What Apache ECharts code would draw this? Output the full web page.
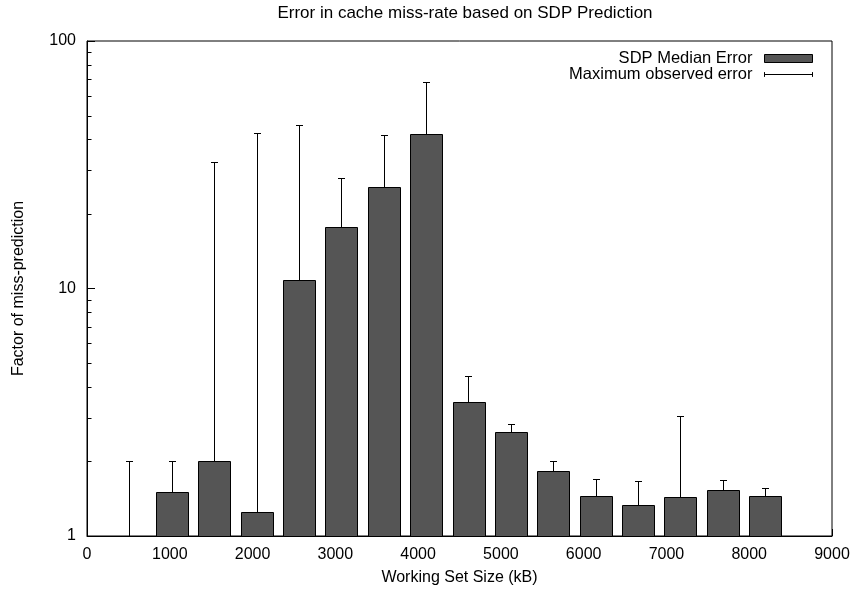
<!DOCTYPE html>
<html>
<head>
<meta charset="utf-8">
<script src="https://cdn.jsdelivr.net/npm/echarts@6/dist/echarts.min.js"></script>
<style>html,body{margin:0;padding:0;background:#fff}#c{width:860px;height:592px}</style>
</head>
<body>
<div id="c"></div>
<script>
// Working set sizes (kB)
var sizes = [512, 1024, 1536, 2048, 2560, 3072, 3584, 4096, 4608, 5120, 5632, 6144, 6656, 7168, 7680, 8192];
// SDP median error (factor)
var medianErr = [1.0, 1.50, 2.0, 1.25, 10.8, 17.8, 25.7, 42.0, 3.47, 2.63, 1.83, 1.45, 1.34, 1.44, 1.53, 1.45];
// Maximum observed error (factor)
var maxErr = [2.0, 2.0, 32.5, 42.3, 45.6, 27.9, 41.8, 68.1, 4.45, 2.84, 2.01, 1.70, 1.67, 3.05, 1.68, 1.57];
// y tick labels / minor ticks
var yMajorTicks = [1, 10, 100];
var yMinorTicks = [2, 3, 4, 5, 6, 7, 8, 9, 20, 30, 40, 50, 60, 70, 80, 90];

var BAR_KB = 384;
var FONT = 'Liberation Sans';

var barData = sizes.map(function (s, i) { return [s, medianErr[i]]; });
var errData = sizes.map(function (s, i) { return [s, medianErr[i], maxErr[i]]; });
var minorData = yMinorTicks.map(function (v) { return [0, v]; });

var chart = echarts.init(document.getElementById('c'), null, {renderer: 'canvas'});
chart.setOption({
  animation: false,
  backgroundColor: '#fff',
  textStyle: {fontFamily: FONT},
  title: {
    text: 'Error in cache miss-rate based on SDP Prediction',
    left: 460, top: 0, textAlign: 'center',
    textStyle: {fontFamily: FONT, fontSize: 17, fontWeight: 'normal', color: '#000'}
  },
  legend: {
    orient: 'vertical', right: 40, top: 45, align: 'right',
    itemWidth: 48, itemHeight: 8, itemGap: -1,
    textStyle: {fontFamily: FONT, fontSize: 16.5, color: '#000', padding: [0, 7, 0, 0]},
    data: [
      {name: 'SDP Median Error', icon: 'rect', itemStyle: {color: '#555555', borderColor: '#000', borderWidth: 1}},
      {name: 'Maximum observed error', icon: 'path://M0,0 L0,10 M0,5 L100,5 M100,0 L100,10',
       itemStyle: {color: 'none', borderColor: '#000', borderWidth: 1}}
    ]
  },
  grid: {left: 87, right: 28, top: 41, bottom: 56, show: true, borderColor: '#000', borderWidth: 1, backgroundColor: 'transparent'},
  xAxis: {
    type: 'value', min: 0, max: 9000, interval: 1000,
    name: 'Working Set Size (kB)', nameLocation: 'middle', nameGap: 34,
    nameTextStyle: {fontFamily: FONT, fontSize: 16, color: '#000'},
    axisLine: {show: true, lineStyle: {color: '#000', width: 1}},
    axisTick: {show: true, inside: true, length: 7, lineStyle: {color: '#000'}},
    axisLabel: {fontFamily: FONT, fontSize: 16, color: '#000', margin: 11,
      formatter: function (v) { return String(v); }},
    splitLine: {show: false}
  },
  yAxis: {
    type: 'log', logBase: 10, min: 1, max: 100,
    name: 'Factor of miss-prediction', nameLocation: 'middle', nameGap: 60,
    nameTextStyle: {fontFamily: FONT, fontSize: 16, color: '#000'},
    axisLine: {show: true, lineStyle: {color: '#000', width: 1}},
    axisTick: {show: true, inside: true, length: 8, lineStyle: {color: '#000'}},
    axisLabel: {fontFamily: FONT, fontSize: 16, color: '#000', margin: 11,
      formatter: function (v) { return yMajorTicks.indexOf(v) >= 0 ? String(v) : ''; }},
    minorTick: {show: false},
    splitLine: {show: false}
  },
  series: [
    {
      name: 'SDP Median Error', type: 'custom', data: barData, z: 2,
      encode: {x: 0, y: 1},
      renderItem: function (params, api) {
        var x = api.value(0), y = api.value(1);
        var l = api.coord([x - BAR_KB / 2, 1]);
        var r = api.coord([x + BAR_KB / 2, y]);
        return {type: 'rect',
          shape: {x: Math.round(l[0]) + 0.5, y: Math.round(r[1]) + 0.5, width: Math.round(r[0] - l[0]), height: Math.round(l[1] - r[1])},
          style: {fill: '#555555', stroke: '#000', lineWidth: 1}};
      }
    },
    {
      name: 'Maximum observed error', type: 'custom', data: errData, z: 3,
      encode: {x: 0, y: [1, 2]},
      renderItem: function (params, api) {
        var x = api.value(0);
        var lo = api.coord([x, api.value(1)]);
        var hi = api.coord([x, api.value(2)]);
        var px = Math.round(lo[0]) + 0.5;
        var cap = 3.5;
        var ly = Math.round(lo[1]) + 0.5, hy = Math.round(hi[1]) + 0.5;
        var st = {stroke: '#000', lineWidth: 1, fill: null};
        return {type: 'group', children: [
          {type: 'line', shape: {x1: px, y1: ly, x2: px, y2: hy}, style: st},
          {type: 'line', shape: {x1: px - cap, y1: hy, x2: px + cap, y2: hy}, style: st},
          {type: 'line', shape: {x1: px - cap, y1: ly, x2: px + cap, y2: ly}, style: st}
        ]};
      }
    },
    {
      name: 'minorTicks', type: 'custom', data: minorData, z: 4, silent: true,
      encode: {x: 0, y: 1},
      renderItem: function (params, api) {
        var p = api.coord([api.value(0), api.value(1)]);
        var y = Math.round(p[1]) + 0.5;
        return {type: 'line', shape: {x1: p[0], y1: y, x2: p[0] + 4.5, y2: y},
          style: {stroke: '#000', lineWidth: 1}};
      }
    }
  ]
});
</script>
</body>
</html>
